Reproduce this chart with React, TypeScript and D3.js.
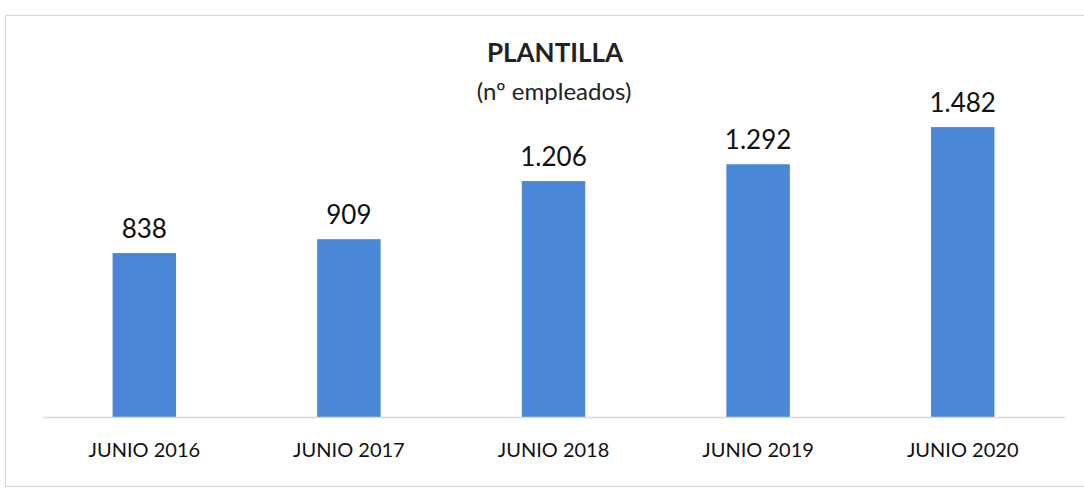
import { useEffect, useRef } from "react";
import * as d3 from "d3";

const categories = ["JUNIO 2016", "JUNIO 2017", "JUNIO 2018", "JUNIO 2019", "JUNIO 2020"];
const values = [838, 909, 1206, 1292, 1482];
const valueLabels = ["838", "909", "1.206", "1.292", "1.482"];

const App = () => {
  const ref = useRef<SVGSVGElement | null>(null);

  useEffect(() => {
    if (!ref.current) return;
    const svg = d3.select(ref.current);
    svg.selectAll("*").remove();

    const width = 1084;
    const height = 493;
    const baseline = 417;
    const font = "Lato, 'Open Sans', sans-serif";

    // chart frame (scanned look)
    svg
      .append("rect")
      .attr("x", 5.5)
      .attr("y", 15.5)
      .attr("width", 1090)
      .attr("height", 471)
      .attr("fill", "#fff")
      .attr("stroke", "#d6d6d6");

    const x = d3
      .scaleBand<string>()
      .domain(categories)
      .range([42, 1065])
      .paddingInner(0.69)
      .paddingOuter(0.345);

    const y = d3.scaleLinear().domain([0, 1600]).range([baseline, 104]);

    // bars
    svg
      .append("g")
      .selectAll("rect")
      .data(values)
      .join("rect")
      .attr("x", (_, i) => x(categories[i])!)
      .attr("y", (d) => y(d))
      .attr("width", x.bandwidth())
      .attr("height", (d) => y(0) - y(d))
      .attr("fill", "#4a87d7");

    // value labels
    svg
      .append("g")
      .selectAll("text")
      .data(values)
      .join("text")
      .attr("x", (_, i) => x(categories[i])! + x.bandwidth() / 2)
      .attr("y", (d) => y(d) - 15)
      .attr("text-anchor", "middle")
      .style("font-family", font)
      .style("font-size", "26px")
      .attr("fill", "#111")
      .text((_, i) => valueLabels[i]);

    // x axis
    const axis = svg
      .append("g")
      .attr("transform", `translate(0,${baseline})`)
      .call(d3.axisBottom(x).tickSize(0).tickPadding(26));
    axis.select(".domain").attr("stroke", "#d9d9d9").attr("stroke-width", 1.5);
    axis
      .selectAll("text")
      .style("font-family", font)
      .style("font-size", "20px")
      .attr("fill", "#111");

    // title
    svg
      .append("text")
      .attr("x", 555)
      .attr("y", 62)
      .attr("text-anchor", "middle")
      .style("font-family", font)
      .style("font-size", "26px")
      .style("font-weight", "bold")
      .attr("fill", "#222")
      .text("PLANTILLA");

    svg
      .append("text")
      .attr("x", 554)
      .attr("y", 100)
      .attr("text-anchor", "middle")
      .style("font-family", font)
      .style("font-size", "24px")
      .attr("fill", "#222")
      .text("(nº empleados)");

    svg.attr("width", width).attr("height", height);
  }, []);

  return (
    <svg
      ref={ref}
      style={{ position: "absolute", left: 0, top: 0, background: "#fff" }}
    ></svg>
  );
};

export default App;
